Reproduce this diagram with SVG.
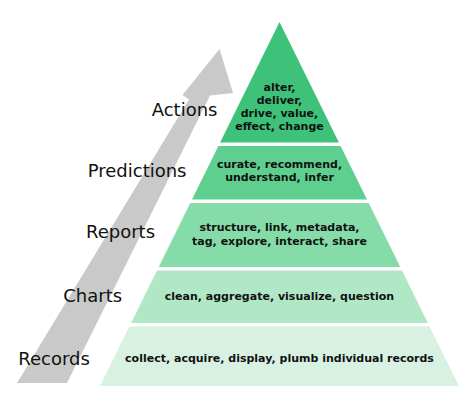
<svg xmlns="http://www.w3.org/2000/svg" width="474" height="411" viewBox="0 0 474 411">
<style>
.lbl{font-family:"DejaVu Sans",Verdana,sans-serif;font-size:18px;fill:#111}
.bt{font-family:"DejaVu Sans",Verdana,sans-serif;font-size:11px;font-weight:bold;fill:#111;text-anchor:middle}
</style>
<rect width="474" height="411" fill="#fff"/>
<g id="connectors">
<polygon id="arrow" points="17,383 67,383 210,95.5 233,93 219.5,49 182.5,95 189,99.5" fill="#c9c9c9"/>
</g>
<g id="band1">
<polygon points="279.5,22 220.1,142.5 338.9,142.5" fill="#3ec27a"/>
<text class="bt" x="279.5" y="91">alter,</text>
<text class="bt" x="279.5" y="104">deliver,</text>
<text class="bt" x="279.5" y="117">drive, value,</text>
<text class="bt" x="279.5" y="130">effect, change</text>
</g>
<g id="band2">
<polygon points="218.4,146 340.6,146 367,199.5 192,199.5" fill="#5fcf8f"/>
<text class="bt" x="279.5" y="168">curate, recommend,</text>
<text class="bt" x="279.5" y="181">understand, infer</text>
</g>
<g id="band3">
<polygon points="190.3,203 368.7,203 400.3,267 158.7,267" fill="#86dca9"/>
<text class="bt" x="279.5" y="231">structure, link, metadata,</text>
<text class="bt" x="279.5" y="244.5">tag, explore, interact, share</text>
</g>
<g id="band4">
<polygon points="157,270.5 402,270.5 427.9,323 131.1,323" fill="#b0e8c6"/>
<text class="bt" x="279.5" y="300">clean, aggregate, visualize, question</text>
</g>
<g id="band5">
<polygon points="129.4,326.5 429.6,326.5 459,386 100,386" fill="#d7f2e2"/>
<text class="bt" x="279.5" y="362">collect, acquire, display, plumb individual records</text>
</g>
<g id="labels">
<text class="lbl" x="151.7" y="116">Actions</text>
<text class="lbl" x="87.7" y="177.3">Predictions</text>
<text class="lbl" x="86" y="237.7">Reports</text>
<text class="lbl" x="63.3" y="301.7">Charts</text>
<text class="lbl" x="18.3" y="365">Records</text>
</g>
</svg>
